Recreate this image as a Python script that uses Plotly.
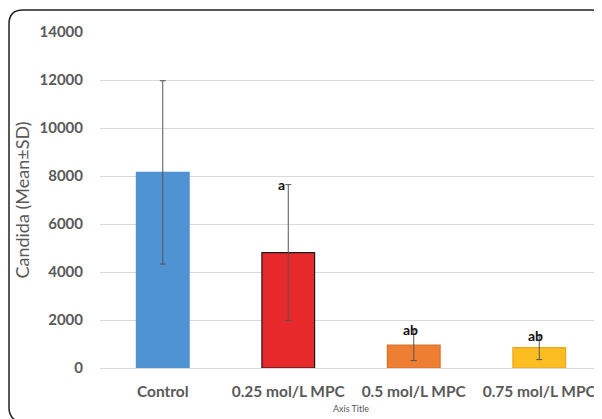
import plotly.graph_objects as go

categories = ["Control", "0.25 mol/L MPC", "0.5 mol/L MPC", "0.75 mol/L MPC"]
means = [8150, 4810, 950, 850]
sds = [3820, 2830, 640, 500]
letters = ["", "a", "ab", "ab"]
y_ticks = [0, 2000, 4000, 6000, 8000, 10000, 12000, 14000]
y_tick_labels = [str(v) for v in y_ticks]

colors = ["#4f93d3", "#e8292b", "#ee7e32", "#fbbd22"]
outlines = ["#4f93d3", "#1a1a1a", "#d9702a", "#e9a91a"]
letter_shift = [0, -7, -3, -4]

# page body adds an 8px offset; figure sized to fit the visible window
W, H = 594, 411
ML, MR, MT, MB = 92, 0, 24, 51

fig = go.Figure()
fig.add_trace(go.Bar(
    x=categories, y=means,
    marker=dict(color=colors, line=dict(color=outlines, width=1.2)),
    error_y=dict(type="data", array=sds, visible=True, color="#555555",
                 thickness=1, width=3),
    width=0.42,
    showlegend=False,
))

for c, m, s, t, dx in zip(categories, means, sds, letters, letter_shift):
    if t:
        fig.add_annotation(x=c, y=m + s, text="<b>" + t + "</b>", showarrow=False,
                           xanchor="center", yanchor="middle", xshift=dx,
                           font=dict(family="Lato", size=14, color="#111111"))

pw = W - ML - MR
ph = H - MT - MB
def px(x):
    return (x - ML) / pw
def py(y):
    return (H - MB - y) / ph

# rounded outer border
x0, x1, y0, y1 = 1, 590, 2, 408
r = 14
path = (f"M {px(x0)},{py(y0 + r)} Q {px(x0)},{py(y0)} {px(x0 + r)},{py(y0)} "
        f"L {px(x1 - 6)},{py(y0)} Q {px(x1)},{py(y0)} {px(x1 + 4)},{py(y0 + 6)} "
        f"M {px(x0)},{py(y0 + r)} L {px(x0)},{py(y1 - 8)} Q {px(x0)},{py(y1)} {px(x0 + 6)},{py(y1 + 4)}")
fig.add_shape(type="path", path=path, xref="paper", yref="paper",
              line=dict(color="#222222", width=1.5))

fig.update_layout(
    width=W, height=H,
    margin=dict(l=ML, r=MR, t=MT, b=MB),
    plot_bgcolor="white", paper_bgcolor="white",
    font=dict(family="Lato", color="#595959"),
    xaxis=dict(
        showgrid=False, showline=False, ticks="",
        tickfont=dict(family="Lato", size=15.5, color="#595959", weight="bold"),
        ticklabelstandoff=12,
        title=dict(text="Axis Title", font=dict(family="Lato", size=9, color="#595959"),
                   standoff=7),
    ),
    yaxis=dict(
        range=[0, 14000], tickvals=y_ticks, ticktext=y_tick_labels,
        showgrid=True, gridcolor="#d9d9d9",
        gridwidth=1, zeroline=True, zerolinecolor="#d9d9d9", zerolinewidth=1,
        showline=False, ticks="",
        tickfont=dict(family="Lato", size=15, color="#595959", weight="bold"),
        ticklabelstandoff=16,
        title=dict(text="Candida (Mean±SD)", font=dict(family="Lato", size=18, color="#595959"),
                   standoff=5),
    ),
)

fig.write_html("out.html")
